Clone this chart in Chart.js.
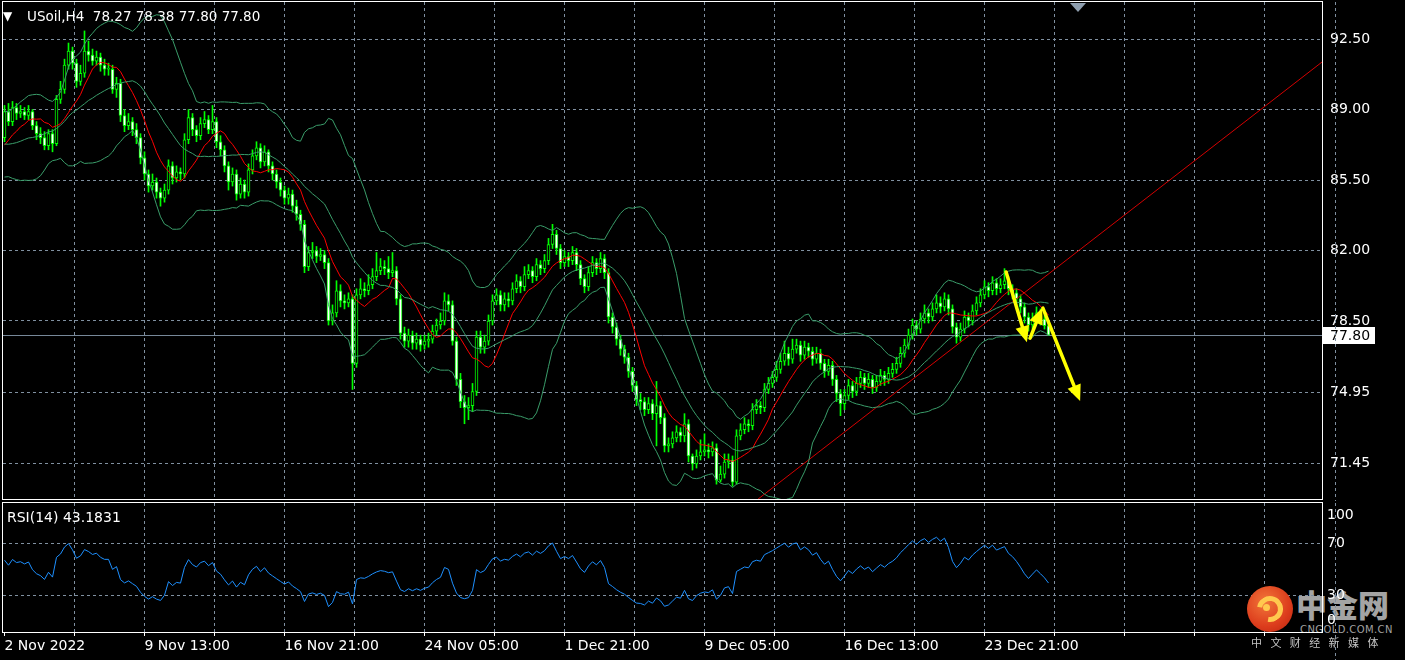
<!DOCTYPE html>
<html><head><meta charset="utf-8"><title>USoil,H4</title>
<script src="https://cdn.jsdelivr.net/npm/chart.js@4.4.1/dist/chart.umd.min.js"></script>
<style>
html,body{margin:0;padding:0;background:#000;}
#wrap{position:relative;width:1405px;height:660px;background:#000;overflow:hidden;}
canvas{position:absolute;left:0;display:block;}
.lbl{position:absolute;color:#fff;font:14px "DejaVu Sans",sans-serif;white-space:pre;line-height:16px;}
.wm{position:absolute;white-space:pre;}
</style></head><body>
<div id="wrap">
<div class="wm" style="left:1296px;top:586px;font:900 31px/36px 'Noto Sans CJK SC',sans-serif;color:#a4a4a4;">中金网</div>
<div class="wm" style="left:1300px;top:624px;font:10px/11px 'DejaVu Sans',sans-serif;color:#a0a0a0;letter-spacing:0.4px;">CNGOLD.COM.CN</div>
<canvas id="mainCanvas" width="1405" height="501" style="top:0"></canvas>
<canvas id="rsiCanvas" width="1405" height="159" style="top:501px"></canvas>
<div class="lbl" style="left:3px;top:8px;font-size:12px;">▼</div>
<div class="lbl" id="hdr" style="left:27px;top:8px;font-size:13.5px"></div>
<div class="lbl" id="rsiHdr" style="left:7px;top:509px"></div>
<div style="position:absolute;left:1070px;top:3px;width:0;height:0;border-left:8px solid transparent;border-right:8px solid transparent;border-top:9px solid #8e9eae"></div>
<div style="position:absolute;left:1247px;top:586px;width:46px;height:46px;border-radius:50%;background:radial-gradient(circle at 40% 35%,#f2763a 0%,#dc3c1c 60%,#b8240e 100%);"></div>
<div style="position:absolute;left:1257px;top:596px;width:16px;height:16px;border:5px solid #ffc94e;border-left-color:transparent;border-radius:50%;transform:rotate(-35deg);"></div>
<div style="position:absolute;left:1263px;top:604px;width:7px;height:7px;border-radius:50%;background:#ffc94e;"></div>
<div class="wm" style="left:1251px;top:636px;font:11px/12px 'Noto Sans CJK SC',sans-serif;color:#c4c4c4;letter-spacing:8.4px;">中文财经新媒体</div>
</div>
<script>
// ---------------- data ----------------
const symbol = 'USoil,H4';
const rsiHeader = 'RSI(14) 43.1831';
const timeLabels = ['2 Nov 2022','9 Nov 13:00','16 Nov 21:00','24 Nov 05:00','1 Dec 21:00','9 Dec 05:00','16 Dec 13:00','23 Dec 21:00'];
const priceTicks = [92.50, 89.00, 85.50, 82.00, 78.50, 74.95, 71.45];
const rsiTickLabels = ['100','70','30','0'];

// closes of the bars before the first visible one (indicator warm-up only)
const warmupCloses = [88.2,88.6,88.4,87.9,87.5,87.0,87.4,87.7,86.9,86.3,
 85.7,85.9,86.5,87.0,86.7,87.4,87.0,87.5,87.9,87.5];

const opens = [87.6,88.9,88.4,89.1,88.8,88.9,88.7,88.9,88.2,87.8,
 87.6,87.2,87.8,87.3,89.5,90.0,91.2,91.9,91.3,90.4,
 90.8,91.9,91.7,91.4,91.6,91.2,91.0,91.0,90.0,90.3,
 88.7,88.2,88.4,88.0,87.6,86.6,85.8,85.2,85.4,84.9,
 84.6,85.0,86.2,85.6,85.9,85.8,87.5,88.6,88.0,87.7,
 88.3,88.5,88.0,88.4,87.4,87.0,86.2,85.4,85.8,84.8,
 85.3,84.9,86.0,86.7,87.1,86.4,86.9,86.2,85.8,85.4,
 85.0,84.6,84.8,84.2,83.8,83.3,81.2,81.9,82.0,81.7,
 81.8,81.4,78.5,78.9,80.0,79.5,79.4,79.6,76.4,79.8,
 80.1,80.0,80.3,80.7,81.0,81.2,81.1,80.9,81.0,79.6,
 77.9,77.5,77.8,77.4,77.6,77.3,77.5,77.6,78.0,78.3,
 78.5,79.5,79.3,77.5,75.6,74.5,74.2,74.3,75.0,77.7,
 77.2,77.5,78.5,79.5,79.8,79.3,79.6,79.5,80.1,80.5,
 80.2,80.8,81.0,80.7,81.3,81.1,81.5,82.3,82.8,82.1,
 81.4,81.7,81.5,81.9,81.3,80.6,80.2,80.9,81.4,81.1,
 81.6,80.9,78.7,78.2,77.6,77.1,76.7,76.0,75.3,74.6,
 74.5,74.1,74.4,73.9,74.3,73.7,72.3,72.4,72.7,73.0,
 72.8,73.4,71.8,71.4,71.8,72.0,72.1,72.0,72.2,70.6,
 70.9,71.5,71.6,70.5,72.8,73.1,73.4,73.3,74.1,74.3,
 74.2,75.1,75.4,75.7,76.1,76.5,76.9,76.6,77.1,77.3,
 76.8,77.2,77.0,76.6,76.9,76.4,76.0,76.3,75.6,74.9,
 74.4,74.8,75.3,75.0,75.4,75.7,75.4,75.6,75.2,75.5,
 75.8,75.6,75.9,76.1,76.4,76.9,77.3,77.8,78.3,78.1,
 78.6,78.9,78.7,79.1,79.4,79.2,79.6,79.1,78.2,77.7,
 78.1,78.7,78.5,79.0,79.4,79.8,80.2,80.0,80.4,80.1,
 80.3,80.5,80.1,79.9,79.6,79.2,78.7,78.3,78.6,78.9,
 78.6,78.27];

const highs = [89.2,89.3,89.4,89.3,89.2,89.1,89.2,89.0,88.4,88.1,
 87.9,88.0,88.0,89.7,90.4,91.5,92.3,92.1,91.5,91.2,
 92.9,92.4,92.0,91.9,91.8,91.5,91.3,91.2,90.6,90.5,
 89.0,88.8,88.6,88.3,87.8,86.9,86.0,85.8,85.6,85.1,
 85.3,86.5,86.4,86.2,86.1,87.8,89.0,88.8,88.2,88.6,
 88.9,88.7,89.2,88.6,87.7,87.2,86.4,86.1,86.0,85.6,
 85.5,86.3,87.0,87.4,87.3,87.2,87.0,86.4,86.0,85.6,
 85.2,85.1,85.0,84.5,84.0,83.5,82.2,82.4,82.2,82.1,
 82.0,81.6,79.3,80.5,80.3,79.8,79.9,79.8,80.1,80.6,
 80.4,80.8,81.1,81.9,81.6,81.5,81.7,81.9,81.2,79.8,
 78.2,78.1,78.0,77.9,77.8,77.8,77.9,78.3,78.6,78.9,
 79.9,79.8,79.5,77.7,75.9,74.8,74.7,75.4,78.0,78.0,
 77.8,78.8,79.8,80.1,80.0,79.9,79.9,80.4,80.8,80.7,
 81.2,81.3,81.2,81.6,81.5,81.8,82.6,83.3,83.0,82.3,
 82.0,81.9,82.2,82.1,81.5,80.8,81.2,81.7,81.6,81.9,
 81.8,81.1,78.9,78.4,77.8,77.3,76.9,76.2,75.5,74.9,
 74.7,74.7,74.6,75.5,74.5,73.9,72.7,73.0,73.3,73.2,
 73.9,73.6,71.9,72.1,72.6,72.9,72.4,72.5,72.4,71.3,
 71.9,71.9,71.8,73.1,73.4,73.7,73.6,74.4,74.6,74.5,
 75.4,75.7,76.0,76.5,76.9,77.5,77.2,77.6,77.6,77.5,
 77.5,77.4,77.2,77.2,77.1,76.6,76.6,76.5,75.8,75.1,
 75.1,75.6,75.5,75.7,76.0,75.9,75.9,75.8,75.8,76.1,
 76.0,76.2,76.4,76.7,77.2,77.6,78.1,78.6,78.5,78.9,
 79.3,79.1,79.4,79.8,79.7,79.9,79.8,79.3,78.4,78.4,
 79.0,78.9,79.3,79.7,80.1,80.5,80.4,80.7,80.6,80.6,
 81.1,80.7,80.3,80.1,79.8,79.4,78.9,78.9,79.2,79.1,
 78.8,78.38];

const lows = [87.4,88.2,88.2,88.5,88.6,88.5,88.5,88.0,87.5,87.3,
 87.0,87.0,86.9,87.2,89.3,89.8,91.0,91.0,90.1,90.2,
 90.6,91.4,91.2,91.2,90.9,90.7,90.7,89.8,89.6,88.4,
 87.9,88.0,87.7,87.3,86.3,85.5,84.9,85.0,84.6,84.2,
 84.4,84.8,85.3,85.4,85.5,85.6,87.3,87.7,87.4,87.5,
 88.1,87.8,87.8,87.1,86.7,85.9,85.0,85.2,84.5,84.6,
 84.6,84.7,85.8,86.5,86.1,86.2,85.9,85.5,85.1,84.7,
 84.3,84.3,83.9,83.5,83.0,80.9,81.0,81.6,81.4,81.5,
 81.1,78.3,78.3,78.7,79.2,79.1,79.2,75.1,76.2,79.6,
 79.7,79.8,80.1,80.5,80.8,80.8,80.6,80.7,79.3,77.6,
 77.2,77.2,77.1,77.1,77.0,77.1,77.2,77.4,77.8,78.1,
 78.3,79.0,77.3,75.3,74.2,73.4,73.6,74.0,74.8,76.9,
 76.9,77.3,78.3,79.3,79.0,79.0,79.2,79.3,79.9,79.9,
 80.0,80.6,80.4,80.5,80.8,80.9,81.3,82.1,81.8,81.1,
 81.2,81.2,81.3,81.0,80.3,79.9,80.0,80.7,80.8,80.9,
 80.6,78.4,77.9,77.3,76.8,76.4,75.7,75.0,74.3,74.1,
 73.8,73.9,73.6,72.3,73.4,72.0,72.0,72.2,72.5,72.5,
 72.5,71.5,71.1,71.2,71.6,71.8,71.7,71.8,70.4,70.5,
 70.7,71.2,70.3,70.4,72.6,72.9,73.0,73.1,73.9,73.9,
 74.0,74.9,75.2,75.5,75.9,76.3,76.3,76.4,76.9,76.5,
 76.6,76.7,76.3,76.4,76.1,75.7,75.8,75.3,74.5,73.8,
 74.1,74.6,74.7,74.8,75.2,75.1,75.2,74.9,75.0,75.3,
 75.3,75.4,75.7,75.9,76.2,76.7,77.1,77.6,77.8,77.9,
 78.4,78.4,78.5,78.9,78.9,79.0,78.8,77.9,77.4,77.5,
 77.9,78.2,78.3,78.8,79.2,79.6,79.7,79.8,79.8,79.9,
 80.1,79.8,79.6,79.3,78.9,78.4,78.0,78.1,78.4,78.3,
 78.1,77.80];

const closes = [88.9,88.4,89.1,88.8,88.9,88.7,88.9,88.2,87.8,87.6,
 87.2,87.8,87.3,89.5,90.0,91.2,91.9,91.3,90.4,90.8,
 91.9,91.7,91.4,91.6,91.2,91.0,91.0,90.0,90.3,88.7,
 88.2,88.4,88.0,87.6,86.6,85.8,85.2,85.4,84.9,84.6,
 85.0,86.2,85.6,85.9,85.8,87.5,88.6,88.0,87.7,88.3,
 88.5,88.0,88.4,87.4,87.0,86.2,85.4,85.8,84.8,85.3,
 84.9,86.0,86.7,87.1,86.4,86.9,86.2,85.8,85.4,85.0,
 84.6,84.8,84.2,83.8,83.3,81.2,81.9,82.0,81.7,81.8,
 81.4,78.5,78.9,80.0,79.5,79.4,79.6,76.4,79.8,80.1,
 80.0,80.3,80.7,81.0,81.2,81.1,80.9,81.0,79.6,77.9,
 77.5,77.8,77.4,77.6,77.3,77.5,77.6,78.0,78.3,78.5,
 79.5,79.3,77.5,75.6,74.5,74.2,74.3,75.0,77.7,77.2,
 77.5,78.5,79.5,79.8,79.3,79.6,79.5,80.1,80.5,80.2,
 80.8,81.0,80.7,81.3,81.1,81.5,82.3,82.8,82.1,81.4,
 81.7,81.5,81.9,81.3,80.6,80.2,80.9,81.4,81.1,81.6,
 80.9,78.7,78.2,77.6,77.1,76.7,76.0,75.3,74.6,74.5,
 74.1,74.4,73.9,74.3,73.7,72.3,72.4,72.7,73.0,72.8,
 73.4,71.8,71.4,71.8,72.0,72.1,72.0,72.2,70.6,70.9,
 71.5,71.6,70.5,72.8,73.1,73.4,73.3,74.1,74.3,74.2,
 75.1,75.4,75.7,76.1,76.5,76.9,76.6,77.1,77.3,76.8,
 77.2,77.0,76.6,76.9,76.4,76.0,76.3,75.6,74.9,74.4,
 74.8,75.3,75.0,75.4,75.7,75.4,75.6,75.2,75.5,75.8,
 75.6,75.9,76.1,76.4,76.9,77.3,77.8,78.3,78.1,78.6,
 78.9,78.7,79.1,79.4,79.2,79.6,79.1,78.2,77.7,78.1,
 78.7,78.5,79.0,79.4,79.8,80.2,80.0,80.4,80.1,80.3,
 80.5,80.1,79.9,79.6,79.2,78.7,78.3,78.6,78.9,78.6,
 78.27,77.80];

// hand-drawn objects (bar index, price)
const trendLine = [[188.4, 69.66], [329.4, 91.36]];
const arrows = [
  [[250.4, 80.93], [255.6, 77.45]],
  [[256.4, 77.65], [259.4, 79.14]],
  [[259.6, 79.14], [268.9, 74.53]]
];

// ---------------- indicators (from the candles) ----------------
const allC = warmupCloses.concat(closes);
const W = warmupCloses.length;
const maRed = [], bbMid = [], bbUp = [], bbLo = [];
for (let i = 0; i < closes.length; i++) {
  const j = i + W;
  let s = 0; for (let k = j - 9; k <= j; k++) s += allC[k];
  maRed.push(s / 10);
  let s2 = 0; for (let k = j - 19; k <= j; k++) s2 += allC[k];
  const m = s2 / 20; let v = 0;
  for (let k = j - 19; k <= j; k++) v += (allC[k] - m) * (allC[k] - m);
  const sd = Math.sqrt(v / 20);
  bbMid.push(m); bbUp.push(m + 2 * sd); bbLo.push(m - 2 * sd);
}
const rsiAll = [];
{
  let ag = 0, al = 0;
  for (let k = 1; k <= 14; k++) { const d = allC[k] - allC[k - 1]; if (d > 0) ag += d; else al -= d; }
  ag /= 14; al /= 14;
  rsiAll[14] = al === 0 ? 100 : 100 - 100 / (1 + ag / al);
  for (let k = 15; k < allC.length; k++) {
    const d = allC[k] - allC[k - 1];
    ag = (ag * 13 + Math.max(d, 0)) / 14; al = (al * 13 + Math.max(-d, 0)) / 14;
    rsiAll[k] = al === 0 ? 100 : 100 - 100 / (1 + ag / al);
  }
}
const rsi = rsiAll.slice(W);

// ---------------- layout / style ----------------
const last = closes.length - 1;
document.getElementById('hdr').textContent = symbol + '  ' + [opens[last], highs[last], lows[last], closes[last]].map(v => v.toFixed(2)).join(' ');
document.getElementById('rsiHdr').textContent = rsiHeader;

const FONT = {family: '"DejaVu Sans", sans-serif', size: 14};
const TXT = '#ffffff';
const GRID = '#8090a0';
const LIME = '#00ff00';
const BAND = '#3a9d6a';
const X_MIN = -0.375, X_MAX = 329.375;
const GRID_STEP = 17.5, LABEL_EVERY = 2;
const gridTicks = []; for (let k = 0; k * GRID_STEP <= X_MAX; k++) gridTicks.push(k * GRID_STEP);
const pts = arr => arr.map((v, i) => ({x: i, y: v}));
const noPad = s => { s.paddingTop = 0; s.paddingBottom = 0; s.paddingLeft = 0; s.paddingRight = 0; };

const lineDs = (data, color, order) => ({type: 'line', data, borderColor: color, borderWidth: 1, pointRadius: 0, tension: 0, fill: false, order});

const frame = {
  id: 'frame',
  afterDraw(chart) {
    const {ctx, chartArea: a} = chart;
    ctx.save();
    ctx.strokeStyle = '#ffffff'; ctx.lineWidth = 1;
    ctx.strokeRect(a.left - 0.5, a.top - 0.5, a.right - a.left + 1, a.bottom - a.top + 1);
    const xs = chart.scales.x;
    const gx = Math.round(xs.getPixelForValue(gridTicks.length * GRID_STEP)) + 0.5;
    ctx.strokeStyle = GRID; ctx.setLineDash([3, 3]);
    ctx.beginPath(); ctx.moveTo(gx, a.top); ctx.lineTo(gx, chart.height); ctx.stroke();
    ctx.restore();
  }
};

const mainDecor = {
  id: 'mainDecor',
  beforeDatasetsDraw(chart) {
    const {ctx, chartArea: a, scales: {y}} = chart;
    const py = Math.round(y.getPixelForValue(closes[last])) + 0.5;
    ctx.save(); ctx.strokeStyle = '#778899'; ctx.lineWidth = 1;
    ctx.beginPath(); ctx.moveTo(a.left, py); ctx.lineTo(a.right, py); ctx.stroke(); ctx.restore();
  },
  afterDatasetsDraw(chart) {
    const {ctx, scales: {x, y}} = chart;
    ctx.save();
    ctx.strokeStyle = '#ffff00'; ctx.fillStyle = '#ffff00'; ctx.lineWidth = 3.5; ctx.lineCap = 'round';
    arrows.forEach(([s, e]) => {
      const x1 = x.getPixelForValue(s[0]), y1 = y.getPixelForValue(s[1]);
      const x2 = x.getPixelForValue(e[0]), y2 = y.getPixelForValue(e[1]);
      const ang = Math.atan2(y2 - y1, x2 - x1), L = 16, H = 7;
      const bx = x2 - L * Math.cos(ang), by = y2 - L * Math.sin(ang);
      ctx.beginPath(); ctx.moveTo(x1, y1); ctx.lineTo(bx, by); ctx.stroke();
      ctx.beginPath(); ctx.moveTo(x2, y2);
      ctx.lineTo(bx + H * Math.sin(ang), by - H * Math.cos(ang));
      ctx.lineTo(bx - H * Math.sin(ang), by + H * Math.cos(ang));
      ctx.closePath(); ctx.fill();
    });
    ctx.restore();
  },
  afterDraw(chart) {
    const {ctx, chartArea: a, scales: {y}} = chart;
    const py = Math.round(y.getPixelForValue(closes[last]));
    ctx.save();
    ctx.fillStyle = '#ffffff'; ctx.fillRect(a.right + 1, py - 8, 52, 17);
    ctx.fillStyle = '#000000'; ctx.font = '14px "DejaVu Sans", sans-serif';
    ctx.textBaseline = 'middle'; ctx.textAlign = 'left';
    ctx.fillText(closes[last].toFixed(2), a.right + 8, py + 1);
    ctx.restore();
  }
};

new Chart(document.getElementById('mainCanvas'), {
  type: 'line',
  data: {
    datasets: [
      lineDs(pts(bbUp), BAND, 0),
      lineDs(pts(bbMid), BAND, 0),
      lineDs(pts(bbLo), BAND, 0),
      lineDs(pts(maRed), '#ff0000', 0),
      lineDs(trendLine.map(p => ({x: p[0], y: p[1]})), '#d40000', 0),
      {type: 'bar', data: opens.map((o, i) => ({x: i, y: [o, closes[i]]})),
       backgroundColor: c => (closes[c.dataIndex] >= opens[c.dataIndex] ? '#000000' : '#ffffff'),
       borderColor: LIME, borderWidth: 1, borderSkipped: false, barThickness: 3, grouped: false, minBarLength: 1, order: 1},
      {type: 'bar', data: highs.map((h, i) => ({x: i, y: [lows[i], h]})),
       backgroundColor: LIME, borderWidth: 0, barThickness: 1, grouped: false, order: 2}
    ]
  },
  options: {
    responsive: false, animation: false, devicePixelRatio: 1, events: [],
    layout: {padding: {left: 3, top: 2, right: 0, bottom: 2}},
    plugins: {legend: {display: false}, tooltip: {enabled: false}},
    scales: {
      x: {type: 'linear', min: X_MIN, max: X_MAX, offset: false,
          afterBuildTicks: s => { s.ticks = gridTicks.map(v => ({value: v})); },
          afterFit: s => { s.height = 0; noPad(s); },
          ticks: {display: false},
          grid: {offset: false, drawTicks: false, color: c => (c.index === 0 ? 'rgba(0,0,0,0)' : GRID)},
          border: {display: false, dash: [3, 3]}},
      y: {position: 'right', min: 69.663, max: 94.337,
          afterBuildTicks: s => { s.ticks = priceTicks.map(v => ({value: v})); },
          afterFit: s => { s.width = 83; noPad(s); },
          ticks: {color: TXT, font: FONT, padding: 8, callback: v => Number(v).toFixed(2)},
          grid: {drawTicks: false, color: GRID},
          border: {display: false, dash: [3, 3]}}
    }
  },
  plugins: [mainDecor, frame]
});

new Chart(document.getElementById('rsiCanvas'), {
  type: 'line',
  data: {datasets: [lineDs(pts(rsi), '#1e90ff', 0)]},
  options: {
    responsive: false, animation: false, devicePixelRatio: 1, events: [],
    layout: {padding: {left: 3, top: 2, right: 0, bottom: 0}},
    plugins: {legend: {display: false}, tooltip: {enabled: false}},
    scales: {
      x: {type: 'linear', min: X_MIN, max: X_MAX, offset: false,
          afterBuildTicks: s => { s.ticks = gridTicks.map(v => ({value: v})); },
          afterFit: s => { s.height = 28; noPad(s); },
          ticks: {display: true, autoSkip: false, maxRotation: 0, minRotation: 0, align: 'start', color: TXT, font: FONT, padding: 2,
                  callback: (v, i) => (i % LABEL_EVERY === 0 && timeLabels[i / LABEL_EVERY]) ? timeLabels[i / LABEL_EVERY] : ''},
          grid: {offset: false, drawTicks: true, tickLength: 4, tickColor: '#ffffff', tickBorderDash: [],
                 color: c => (c.index === 0 ? 'rgba(0,0,0,0)' : GRID)},
          border: {display: false, dash: [3, 3]}},
      y: {position: 'right', min: 1.54, max: 100.77,
          afterBuildTicks: s => { s.ticks = [91.54, 70, 30, 10.77].map(v => ({value: v})); },
          afterFit: s => { s.width = 83; noPad(s); },
          ticks: {color: TXT, font: FONT, padding: 5, autoSkip: false, callback: (v, i) => rsiTickLabels[i]},
          grid: {drawTicks: false, color: c => ((c.tick && (c.tick.value === 70 || c.tick.value === 30)) ? GRID : 'rgba(0,0,0,0)')},
          border: {display: false, dash: [3, 3]}}
    }
  },
  plugins: [frame]
});
</script>
</body></html>
